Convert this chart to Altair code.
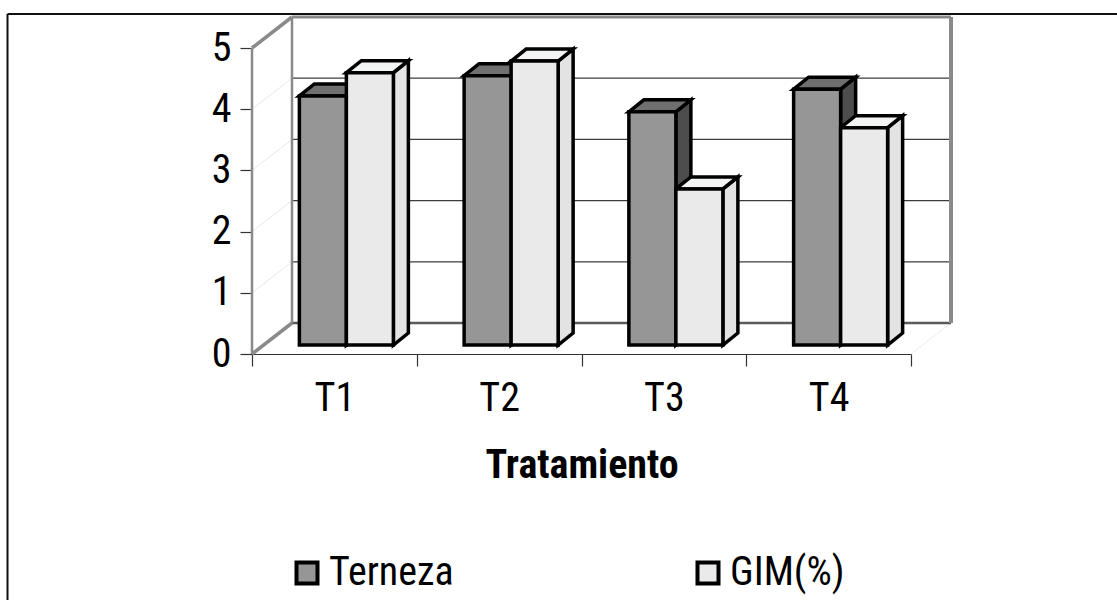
import altair as alt
import pandas as pd

# ---- data -------------------------------------------------------------
categories = ["T1", "T2", "T3", "T4"]
series = ["Terneza", "GIM(%)"]
terneza = [4.07, 4.40, 3.81, 4.18]
gim = [4.45, 4.64, 2.55, 3.55]
y_ticks = [0, 1, 2, 3, 4, 5]

# ---- styling / projection constants (pixels) ---------------------------
FONT = "Roboto Condensed, DejaVu Sans Condensed, Liberation Sans, sans-serif"
W, H = 659, 306                      # front plane of the plot
X_MAX, Y_MAX = len(categories), y_ticks[-1]
PX_X = W / X_MAX                      # pixels per category
PX_Y = H / Y_MAX                      # pixels per value unit

WALL_DX, WALL_DY = 40, 31             # depth of the floor / walls
FLOOR_DX, FLOOR_DY = 12, 9            # where the bar fronts stand on the floor
BAR_DX, BAR_DY = 15, 12               # depth of each bar
BAR_W = 47                            # width of each bar face

FRONT_FILL = {"Terneza": "#969696", "GIM(%)": "#eaeaea"}
TOP_FILL = {"Terneza": "#6f6f6f", "GIM(%)": "#f3f5f5"}
SIDE_FILL = {"Terneza": "#4d4d4d", "GIM(%)": "#e3e3e3"}


def ux(px):
    return px / PX_X


def uy(px):
    return px / PX_Y


# ---- 3-D bar faces ------------------------------------------------------
fronts, tops, sides = [], [], []
values = {"Terneza": terneza, "GIM(%)": gim}
for i, cat in enumerate(categories):
    for s, name in enumerate(series):
        v = values[name][i]
        xl = i + 0.5 + ux(FLOOR_DX) + (s - 1) * ux(BAR_W)
        xr = xl + ux(BAR_W)
        base = uy(FLOOR_DY)
        top = base + v
        dx, dy = ux(BAR_DX), uy(BAR_DY)
        bid = f"{cat}-{name}"
        fronts.append(dict(bar=bid, series=name, x=xl, x2=xr, y=top, y2=base))
        for px, py, py2 in [(xl, top, top), (xl + dx, top + dy, top),
                            (xr, top + dy, top), (xr + dx, top + dy, top + dy)]:
            tops.append(dict(bar=bid, series=name, x=px, y=py, y2=py2))
        for px, py, py2 in [(xr, top, base), (xr + dx, top + dy, base + dy)]:
            sides.append(dict(bar=bid, series=name, x=px, y=py, y2=py2))

fronts = pd.DataFrame(fronts)
tops = pd.DataFrame(tops)
sides = pd.DataFrame(sides)

# ---- walls, floor and grid ------------------------------------------------
wdx, wdy = ux(WALL_DX), uy(WALL_DY)
walls = []
for t in y_ticks[1:-1]:
    walls.append(dict(x=wdx, y=t + wdy, x2=X_MAX + wdx, y2=t + wdy, c="#3c3c3c", w=1.3))
    walls.append(dict(x=0, y=t, x2=wdx, y2=t + wdy, c="#e8e8e8", w=1.0))
walls += [
    dict(x=X_MAX, y=0, x2=X_MAX + wdx, y2=wdy, c="#eeeeee", w=1.0),          # floor right edge
    dict(x=wdx, y=wdy, x2=X_MAX + wdx, y2=wdy, c="#5a5a5a", w=2.5),          # floor back edge
    dict(x=wdx, y=wdy, x2=wdx, y2=Y_MAX + wdy, c="#8a8a8a", w=2.5),          # back wall left
    dict(x=X_MAX + wdx, y=wdy, x2=X_MAX + wdx, y2=Y_MAX + wdy, c="#8a8a8a", w=4.0),
    dict(x=wdx, y=Y_MAX + wdy, x2=X_MAX + wdx, y2=Y_MAX + wdy, c="#8a8a8a", w=3.0),
    dict(x=0, y=0, x2=0, y2=Y_MAX, c="#8a8a8a", w=2.5),                      # side wall front
    dict(x=0, y=Y_MAX, x2=wdx, y2=Y_MAX + wdy, c="#8a8a8a", w=3.5),
    dict(x=0, y=0, x2=wdx, y2=wdy, c="#8a8a8a", w=3.5),
]
walls = pd.DataFrame(walls)

# ---- shared scales / axes -------------------------------------------------
label_list = "[" + ",".join(f"'{c}'" for c in categories) + "]"
x_scale = alt.Scale(domain=[0, X_MAX], nice=False, zero=False)
y_scale = alt.Scale(domain=[0, Y_MAX], nice=False, zero=False)
x_axis = alt.Axis(
    values=list(range(X_MAX + 1)), labelExpr=f"{label_list}[datum.value] || ''",
    labelOffset=PX_X / 2, labelFlush=False, labelOverlap=False, labelBound=False,
    tickSize=12, tickColor="#333333", tickWidth=1.2, domainColor="#333333", domainWidth=1.2,
    labelFont=FONT, labelFontSize=40, labelColor="black", labelPadding=12,
    grid=False, title="Tratamiento", titleFont=FONT, titleFontSize=40,
    titleFontWeight="bold", titleColor="black", titlePadding=27,
)
y_axis = alt.Axis(
    values=y_ticks, format="d", tickSize=12, tickColor="#333333", tickWidth=1.2,
    domain=False, grid=False, labelFont=FONT, labelFontSize=40, labelColor="black",
    labelPadding=9, title=None,
)


def X(field="x"):
    return alt.X(f"{field}:Q", scale=x_scale, axis=x_axis)


def Y(field="y"):
    return alt.Y(f"{field}:Q", scale=y_scale, axis=y_axis, stack=None)


wall_layer = alt.Chart(walls).mark_rule().encode(
    x=X(), y=Y(), x2="x2:Q", y2="y2:Q",
    color=alt.Color("c:N", scale=None),
    strokeWidth=alt.StrokeWidth("w:Q", scale=None),
)


def face_layer(df, name, fill):
    return alt.Chart(df[df["series"] == name]).mark_area(
        orient="vertical", fill=fill, stroke="black", strokeWidth=3.5,
        strokeJoin="miter", opacity=1,
    ).encode(x=X(), y=Y(), y2="y2:Q", detail="bar:N")


side_layers = [face_layer(sides, s, SIDE_FILL[s]) for s in series]
top_layers = [face_layer(tops, s, TOP_FILL[s]) for s in series]

front_layer = alt.Chart(fronts).mark_rect(
    stroke="black", strokeWidth=3.5, strokeJoin="miter"
).encode(
    x=X(), x2="x2:Q", y=Y(), y2="y2:Q",
    fill=alt.Fill(
        "series:N",
        scale=alt.Scale(domain=series, range=[FRONT_FILL[s] for s in series]),
        legend=alt.Legend(
            title=None, orient="none", legendX=35, legendY=505, direction="horizontal",
            columns=2, columnPadding=234, symbolType="square", symbolSize=441,
            symbolStrokeColor="black", symbolStrokeWidth=4, labelFont=FONT,
            labelFontSize=40, labelColor="black", labelOffset=2, labelLimit=400,
        ),
    ),
)

# outer chart border (left and top edges)
border = alt.Chart(pd.DataFrame({"k": [0]})).mark_rule(color="#111111", strokeWidth=2).encode(
    x=alt.value(-244.5), x2=alt.value(-244.5), y=alt.value(-34), y2=alt.value(560)
)
border_top = alt.Chart(pd.DataFrame({"k": [0]})).mark_rule(color="#111111", strokeWidth=2).encode(
    x=alt.value(-244.5), x2=alt.value(880), y=alt.value(-34), y2=alt.value(-34)
)

chart = alt.layer(
    wall_layer, *side_layers, *top_layers, front_layer, border, border_top
).properties(
    width=W, height=H,
    autosize=alt.AutoSizeParams(type="none"),
    padding={"left": 252, "top": 48, "right": 206, "bottom": 246},
    background="white",
).configure_view(stroke=None)

chart.save("out.html", embed_options={"renderer": "svg", "actions": False})
